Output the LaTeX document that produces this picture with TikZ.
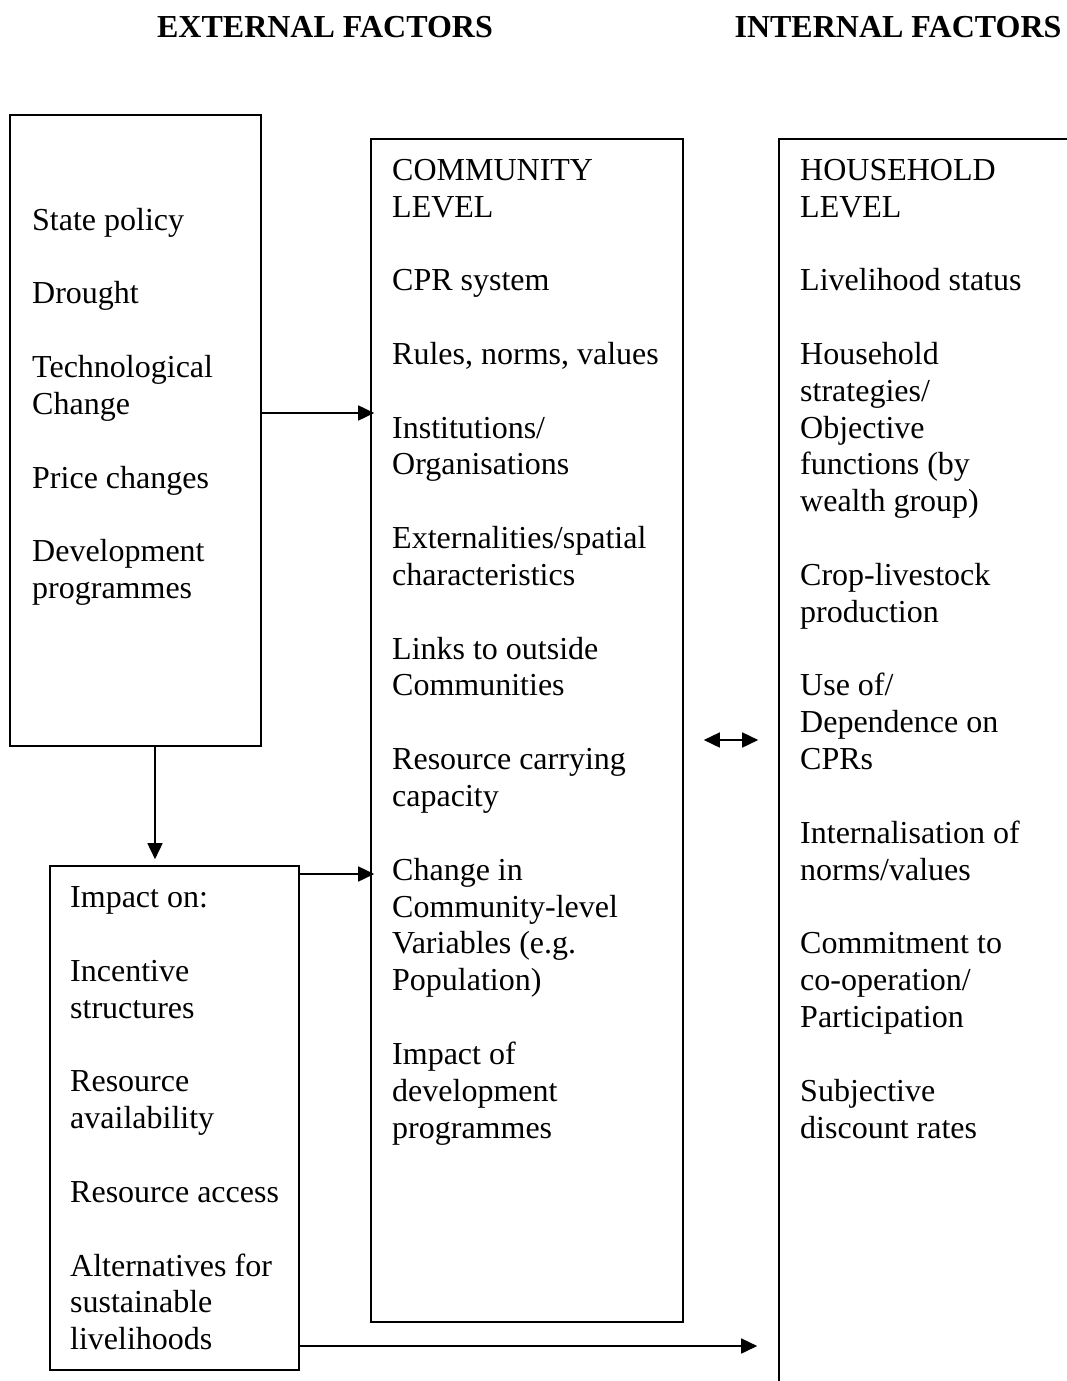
\documentclass[tikz,border=0pt]{standalone}
\usepackage{fontspec}
\setmainfont{Liberation Serif}
\usetikzlibrary{arrows.meta}
\newcommand{\gp}{\\[36.84pt]}
\tikzset{
  box/.style={draw, line width=1.6pt, rectangle, inner sep=0pt},
  txt/.style={anchor=north west, inner sep=0pt, align=left,
    font=\fontsize{32}{36.84}\selectfont},
  head/.style={anchor=base, inner sep=0pt, font=\fontsize{32}{36.84}\selectfont\bfseries},
  arr/.style={line width=1.6pt, -{Triangle[length=16pt,width=15pt]}},
  darr/.style={line width=1.6pt, {Triangle[length=16pt,width=15pt]}-{Triangle[length=16pt,width=15pt]}}
}
\begin{document}
\begin{tikzpicture}[x=1pt,y=-1pt]
\useasboundingbox (0,0) rectangle (1067,1381);
\fill[white] (0,0) rectangle (1067,1381);
% headings
\node[head] (hext) at (325,38) {EXTERNAL FACTORS};
\node[head] (hint) at (898,38) {INTERNAL FACTORS};
% boxes
\node[box, minimum width=251pt, minimum height=631pt] (b1) at (135.5,430.5) {};
\node[box, minimum width=249pt, minimum height=504pt] (b2) at (174.5,1118) {};
\node[box, minimum width=312pt, minimum height=1183pt] (b3) at (527,730.5) {};
\begin{scope}
\clip (0,0) rectangle (1067,1381);
\node[box, minimum width=301pt, minimum height=1261pt] (b4) at (929.5,769.5) {};
\end{scope}
% texts
\node[txt] (t1) at (32,204.2) {\strut State policy\gp Drought\gp Technological\\Change\gp Price changes\gp Development\\programmes};
\node[txt] (t2) at (70,881.7) {\strut Impact on:\gp Incentive\\structures\gp Resource\\availability\gp Resource access\gp Alternatives for\\sustainable\\livelihoods};
\node[txt] (t3) at (392,154.2) {\strut COMMUNITY\\LEVEL\gp CPR system\gp Rules, norms, values\gp Institutions/\\Organisations\gp Externalities/spatial\\characteristics\gp Links to outside\\Communities\gp Resource carrying\\capacity\gp Change in\\Community-level\\Variables (e.g.\\Population)\gp Impact of\\development\\programmes};
\node[txt] (t4) at (800,154.2) {\strut HOUSEHOLD\\LEVEL\gp Livelihood status\gp Household\\strategies/\\Objective\\functions (by\\wealth group)\gp Crop-livestock\\production\gp Use of/\\Dependence on\\CPRs\gp Internalisation of\\norms/values\gp Commitment to\\co-operation/\\Participation\gp Subjective\\discount rates};
% connectors
\draw[arr] (b1.east |- 0,413) -- ([xshift=4pt]b3.west |- 0,413);
\draw[arr] (b1.south -| 155,0) -- ([yshift=6pt]b2.north -| 155,0);
\draw[arr] (b2.east |- 0,874) -- ([xshift=4pt]b3.west |- 0,874);
\draw[darr, shorten <=20pt, shorten >=20pt] (b3.east |- 0,740) -- (b4.west |- 0,740);
\draw[arr, shorten >=21pt] (b2.east |- 0,1346) -- (b4.west |- 0,1346);
\end{tikzpicture}
\end{document}
